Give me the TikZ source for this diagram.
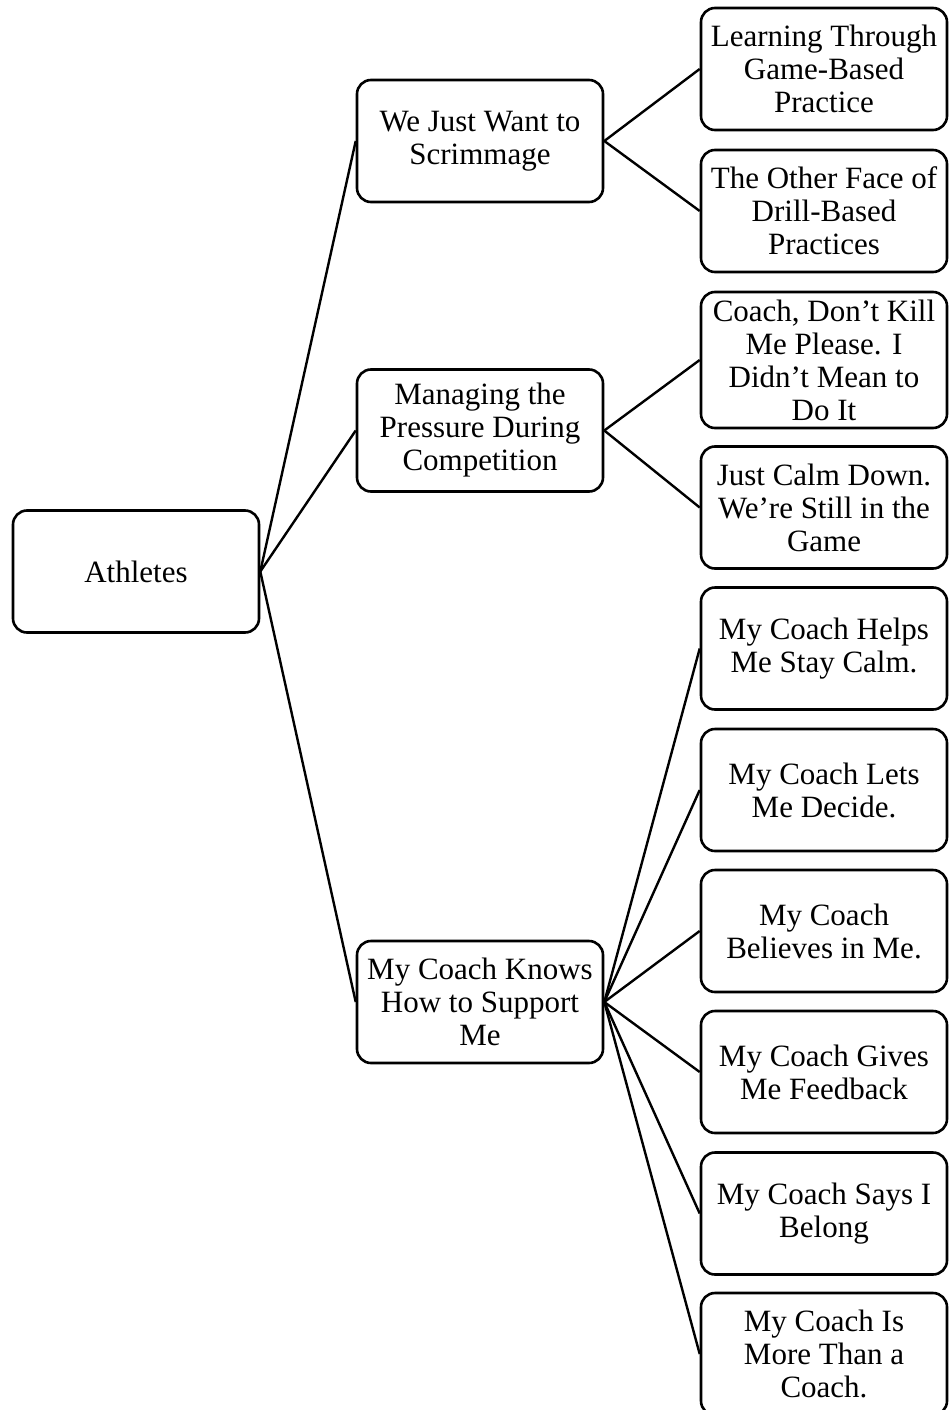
\documentclass[tikz,border=0pt]{standalone}
\usepackage{fontspec}
\setmainfont{Liberation Serif}
\begin{document}
\begin{tikzpicture}[x=1pt,y=-1pt,
  box/.style={draw=black,line width=2.6pt,rounded corners=14pt,minimum width=246pt,
    minimum height=122pt,align=center,inner sep=1pt,
    font=\fontsize{31}{33}\selectfont},
  link/.style={draw=black,line width=2.4pt}]
\useasboundingbox (0,0) rectangle (950,1410);
\node[box] (root) at (136,571.5) {Athletes};
\node[box] (m1) at (480,141) {We Just Want to\\Scrimmage};
\node[box] (m2) at (480,430.5) {Managing the\\Pressure During\\Competition};
\node[box] (m3) at (480,1002) {My Coach Knows\\How to Support\\Me};
\node[box] (r1) at (824,69) {Learning Through\\Game-Based\\Practice};
\node[box] (r2) at (824,211) {The Other Face of\\Drill-Based\\Practices};
\node[box,minimum height=136pt] (r3) at (824,360) {Coach, Don’t Kill\\Me Please. I\\Didn’t Mean to\\Do It};
\node[box] (r4) at (824,507.5) {Just Calm Down.\\We’re Still in the\\Game};
\node[box] (r5) at (824,648.5) {My Coach Helps\\Me Stay Calm.};
\node[box] (r6) at (824,790) {My Coach Lets\\Me Decide.};
\node[box] (r7) at (824,931) {My Coach\\Believes in Me.};
\node[box] (r8) at (824,1072) {My Coach Gives\\Me Feedback};
\node[box] (r9) at (824,1213.5) {My Coach Says I\\Belong};
\node[box] (r10) at (824,1354) {My Coach Is\\More Than a\\Coach.};
\foreach \m in {m1,m2,m3} \draw[link] (root.east) -- (\m.west);
\foreach \r in {r1,r2} \draw[link] (m1.east) -- (\r.west);
\foreach \r in {r3,r4} \draw[link] (m2.east) -- (\r.west);
\foreach \r in {r5,r6,r7,r8,r9,r10} \draw[link] (m3.east) -- (\r.west);
\end{tikzpicture}
\end{document}
